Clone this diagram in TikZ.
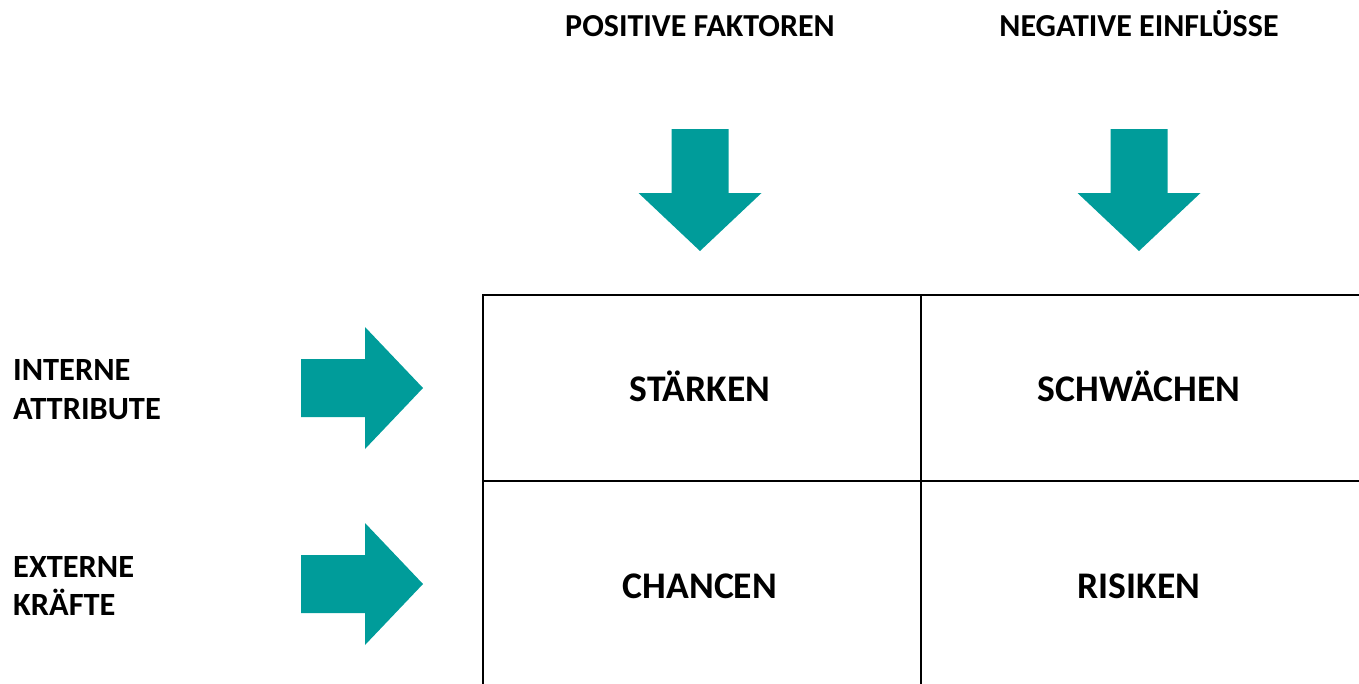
\documentclass[tikz,border=0pt]{standalone}
\usepackage{fontspec}
\setmainfont{Carlito}
\definecolor{teal1}{HTML}{009C9A}
\begin{document}
\begin{tikzpicture}[x=1pt,y=-1pt,
  hdr/.style={font=\bfseries\fontsize{32}{38}\selectfont, anchor=base, inner sep=0pt},
  side/.style={font=\bfseries\fontsize{32.4}{39}\selectfont, anchor=base west, inner sep=0pt, align=left},
  cell/.style={font=\bfseries\fontsize{37.6}{44}\selectfont, anchor=base, inner sep=0pt},
  grid/.style={line width=2.2pt, black},
  arr/.style={fill=teal1, draw=none}]
\useasboundingbox (0,0) rectangle (1359,683);
% headers
\node[hdr] (pos) at (700,36) {POSITIVE FAKTOREN};
\node[hdr] (neg) at (1139,36) {NEGATIVE EINFLÜSSE};
% side labels
\node[side] (int1) at (13,380) {INTERNE};
\node[side] (int2) at (13,419) {ATTRIBUTE};
\node[side] (ext1) at (13,577) {EXTERNE};
\node[side] (ext2) at (13,615) {KRÄFTE};
% down arrows
\foreach \cx/\nm in {700/da, 1139/db}{
  \fill[arr] (\cx-28.5,129) -- (\cx+28.5,129) -- (\cx+28.5,193) -- (\cx+61.5,193)
    -- (\cx,251) -- (\cx-61.5,193) -- (\cx-28.5,193) -- cycle;
}
% right arrows
\foreach \cy in {388, 584}{
  \fill[arr] (301,\cy-29) -- (365,\cy-29) -- (365,\cy-61) -- (423,\cy)
    -- (365,\cy+61) -- (365,\cy+29) -- (301,\cy+29) -- cycle;
}
% grid
\coordinate (tl) at (483,295);
\coordinate (tr) at (1360,295);
\coordinate (ml) at (483,481);
\coordinate (mr) at (1360,481);
\coordinate (bl) at (483,684);
\coordinate (tm) at (921,295);
\coordinate (bm) at (921,684);
\draw[grid] (tr) -- (tl) -- (bl);
\draw[grid] (ml) -- (mr);
\draw[grid] (tm) -- (bm);
% cell texts
\node[cell] (s) at (700,401) {STÄRKEN};
\node[cell] (w) at (1139,401) {SCHWÄCHEN};
\node[cell] (o) at (700,598) {CHANCEN};
\node[cell] (t) at (1139,598) {RISIKEN};
\end{tikzpicture}
\end{document}
